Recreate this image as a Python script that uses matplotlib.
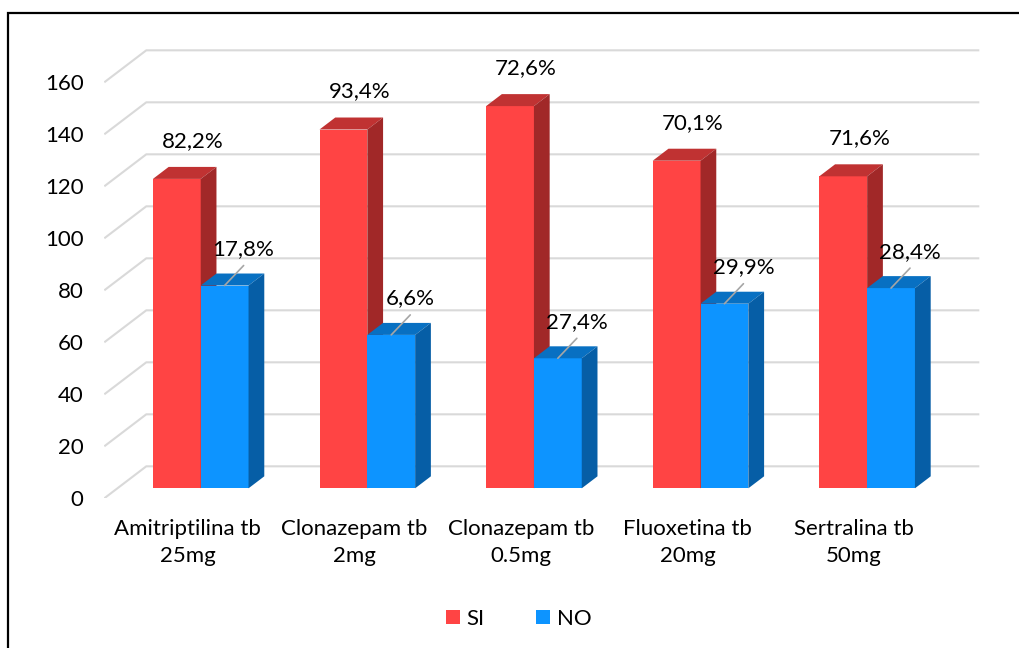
import matplotlib
matplotlib.use("Agg")
import matplotlib.pyplot as plt
from matplotlib.patches import Polygon, Rectangle, Patch

plt.rcParams['font.family'] = ['Lato', 'DejaVu Sans']

# Data
categories = ["Amitriptilina tb\n25mg", "Clonazepam tb\n2mg", "Clonazepam tb\n0.5mg",
              "Fluoxetina tb\n20mg", "Sertralina tb\n50mg"]
si_values = [119, 138, 147, 126, 120]
no_values = [78, 59, 50, 71, 77]
si_labels = ["82,2%", "93,4%", "72,6%", "70,1%", "71,6%"]
no_labels = ["17,8%", "6,6%", "27,4%", "29,9%", "28,4%"]
y_ticks = [0, 20, 40, 60, 80, 100, 120, 140, 160]

# Colours (front, top, side)
red = ('#FF4444', '#C03232', '#A12828')
blue = ('#0D94FF', '#0870C2', '#065EA6')
grid_col = '#D9D9D9'
fs = 16

# Oblique depth: back wall offset in data units (x in categories, y in values)
wall_dx, wall_dy = 0.252, 12.3
# bars sit between 31% and 69% of the depth
front_dx, front_dy = 0.3125 * wall_dx, 0.3125 * wall_dy
back_dx, back_dy = 0.6875 * wall_dx, 0.6875 * wall_dy
bar_w = 0.287

fig = plt.figure(figsize=(10.19, 6.48), dpi=100)
W, H = 1019, 648
ax = fig.add_axes([104.3 / W, (H - 498.3) / H, 883 / W, 455 / H])
ax.set_xlim(-0.5, 4.8)
ax.set_ylim(0, 175)
for s in ax.spines.values():
    s.set_visible(False)

# back wall gridlines with the slanted side-wall part
for v in y_ticks:
    ax.plot([-0.5, -0.5 + wall_dx, 4.5 + wall_dx], [v, v + wall_dy, v + wall_dy],
            color=grid_col, lw=1.5, zorder=0, solid_capstyle='butt')


def draw_bar(x0, v, cols):
    fc, tc, sc = cols
    ax.bar(x0 + front_dx, v, width=bar_w, bottom=front_dy, align='edge',
           color=fc, zorder=2)
    top = [(x0 + front_dx, front_dy + v), (x0 + front_dx + bar_w, front_dy + v),
           (x0 + back_dx + bar_w, back_dy + v), (x0 + back_dx, back_dy + v)]
    side = [(x0 + front_dx + bar_w, front_dy), (x0 + back_dx + bar_w, back_dy),
            (x0 + back_dx + bar_w, back_dy + v), (x0 + front_dx + bar_w, front_dy + v)]
    ax.add_patch(Polygon(top, closed=True, fc=tc, ec='none', zorder=2))
    ax.add_patch(Polygon(side, closed=True, fc=sc, ec='none', zorder=2))


for i in range(len(categories)):
    draw_bar(i - bar_w, si_values[i], red)
    draw_bar(i, no_values[i], blue)

    # SI labels above the bars
    ax.annotate(si_labels[i], xy=(i - bar_w / 2 + front_dx, si_values[i] + front_dy),
                xytext=(16, 38), textcoords='offset pixels',
                ha='center', va='center', fontsize=fs, zorder=5)
    # NO labels with leader lines
    xy_no = (i + bar_w / 2 + front_dx, no_values[i] + front_dy)
    ax.annotate('', xy=xy_no, xytext=(19, 20), textcoords='offset pixels',
                arrowprops=dict(arrowstyle='-', color='#A6A6A6', lw=1.2,
                                shrinkA=0, shrinkB=0), zorder=4)
    ax.annotate(no_labels[i], xy=xy_no, xytext=(19, 36.5), textcoords='offset pixels',
                ha='center', va='center', fontsize=fs, zorder=5)

ax.set_yticks(y_ticks)
ax.set_yticklabels([str(t) for t in y_ticks], fontsize=fs)
ax.set_xticks(range(len(categories)))
ax.set_xticklabels(categories, fontsize=fs, linespacing=1.45)
ax.tick_params(axis='y', length=0, pad=15)
ax.tick_params(axis='x', length=0, pad=15)

fig.legend(handles=[Patch(fc=red[0]), Patch(fc=blue[0])], labels=['SI', 'NO'],
           loc='center', bbox_to_anchor=(518.7 / W, 1 - 619 / H), ncol=2,
           frameon=False, handlelength=0.63, handleheight=0.63,
           handletextpad=0.3, columnspacing=2.3, fontsize=fs)

# outer frame
fig.add_artist(Rectangle((8.3 / W, -0.1), 1.2, (1 - 13.3 / H) + 0.1,
                         transform=fig.transFigure, fill=False, ec='black', lw=1.6))

fig.savefig('out.png', dpi=100)
